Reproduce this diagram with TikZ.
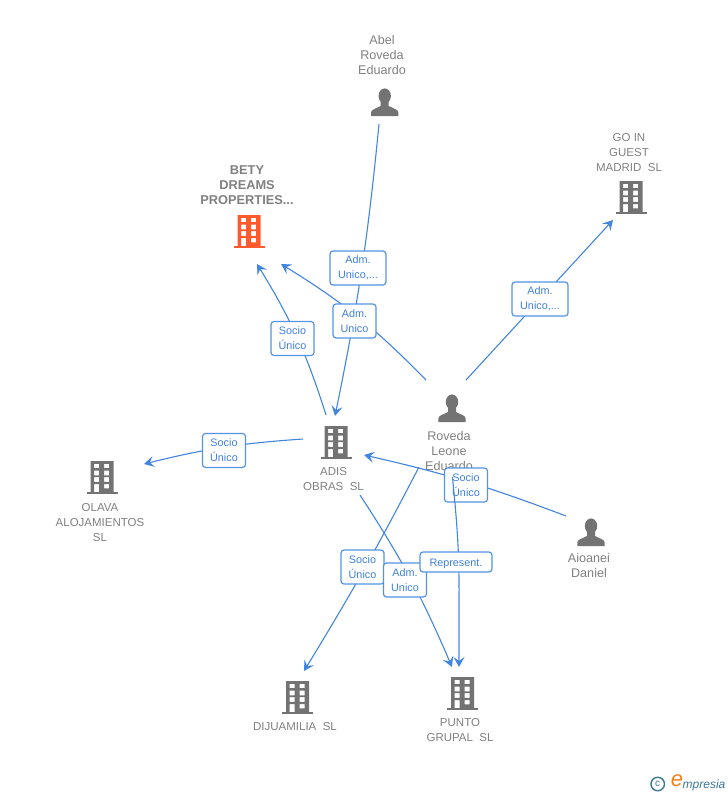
\documentclass[tikz,border=0pt]{standalone}
\usepackage{fontspec}
\setmainfont{Liberation Sans}
\usepackage{xcolor}
\usepackage{tikz}
\usetikzlibrary{arrows.meta,positioning}
\definecolor{linkblue}{RGB}{66,133,224}
\definecolor{boxblue}{RGB}{84,146,228}
\definecolor{textblue}{RGB}{62,128,222}
\definecolor{iconorange}{RGB}{255,90,44}
\definecolor{icongray}{RGB}{115,115,115}
\definecolor{labelgray}{RGB}{128,128,128}
\definecolor{marklogo}{RGB}{58,120,150}
\definecolor{markorange}{RGB}{240,130,30}
\tikzstyle{link} = [line width=1.1pt,color=linkblue]
\tikzstyle{arrow} = [link,-{Stealth[length=10pt,width=11pt,inset=4pt]}]
\tikzstyle{relbox} = [draw=boxblue,line width=1.2pt,fill=white,rounded corners=3pt,inner sep=0pt,minimum height=34pt,minimum width=43pt,align=center,text=textblue,font=\fontsize{10.8}{15}\selectfont,execute at begin node={\rule{0pt}{12pt}}]
\tikzstyle{personlabel} = [align=center,inner sep=0pt,text=labelgray,font=\fontsize{12.6}{15}\selectfont]
\tikzstyle{companylabel} = [align=center,inner sep=0pt,text=labelgray,font=\fontsize{11.5}{15}\selectfont]
\tikzset{
  building/.pic={
    \fill[even odd rule,pic actions]
      (-11.5,-2) rectangle (11.5,-33)
      (-7.8,-30.2) rectangle (-2.8,-25.8) (2.2,-30.2) rectangle (7.2,-25.8)
      (-7.8,-23.4) rectangle (-2.8,-18.6) (2.2,-23.4) rectangle (7.2,-18.6)
      (-7.8,-16.8) rectangle (-2.8,-12.2) (2.2,-16.8) rectangle (7.2,-12.2)
      (-7.8,-10) rectangle (-2.8,-2) (2.2,-10) rectangle (7.2,-5.6);
    \fill[pic actions] (-15.5,-2) rectangle (15.5,0);
  },
  person/.pic={
    \fill[pic actions] (0,-20) ellipse (6.2 and 7.6);
    \fill[pic actions] (-13.7,0) -- (-13.7,-3.5) .. controls (-13.7,-6.5) and (-8.5,-7.5) .. (-4,-10)
      -- (-4,-14) -- (4,-14) -- (4,-10) .. controls (8.5,-7.5) and (13.7,-6.5) .. (13.7,-3.5) -- (13.7,0) -- cycle;
  }
}

\begin{document}
\begin{tikzpicture}[x=1pt,y=-1pt]
    \useasboundingbox (0,0) rectangle (728,795);

    % Icons
    \pic[fill=icongray] (iconAbel) at (384.7,116) {person};
    \pic[fill=icongray] (iconRoveda) at (452,422) {person};
    \pic[fill=icongray] (iconAioanei) at (591,546) {person};
    \pic[fill=iconorange] (iconBety) at (249,248) {building};
    \pic[fill=icongray] (iconGoin) at (631,214) {building};
    \pic[fill=icongray] (iconAdis) at (336,459) {building};
    \pic[fill=icongray] (iconOlava) at (102,494) {building};
    \pic[fill=icongray] (iconDijua) at (297.5,714) {building};
    \pic[fill=icongray] (iconPunto) at (462.5,710) {building};

    % Labels
    \node[personlabel] (nameAbel) at (382,55) {Abel\\Roveda\\Eduardo};
    \node[personlabel] (nameRoveda) at (449,451) {Roveda\\Leone\\Eduardo};
    \node[personlabel] (nameAioanei) at (589,565.5) {Aioanei\\Daniel};
    \node[companylabel,font=\fontsize{12.8}{15}\selectfont\bfseries] (nameBety) at (247,185) {BETY\\DREAMS\\PROPERTIES...};
    \node[companylabel] (nameGoin) at (629,152.5) {GO IN\\GUEST\\MADRID~~SL};
    \node[companylabel] (nameAdis) at (333.5,479.3) {ADIS\\OBRAS~~SL};
    \node[companylabel] (nameOlava) at (100,522.8) {OLAVA\\ALOJAMIENTOS\\SL};
    \node[companylabel] (nameDijua) at (295,726.8) {DIJUAMILIA~~SL};
    \node[companylabel] (namePunto) at (460,730) {PUNTO\\GRUPAL~~SL};

    % Connector ends
    \coordinate (abelOut) at (379,124);
    \coordinate (adisTop) at (335,416);
    \coordinate (adisUp) at (326,415);
    \coordinate (adisLeft) at (303,439);
    \coordinate (adisRight) at (364,455);
    \coordinate (adisDown) at (360,495);
    \coordinate (betyLeft) at (257,264);
    \coordinate (betyRight) at (281,264);
    \coordinate (olavaIn) at (144,464);
    \coordinate (goinIn) at (613,220);
    \coordinate (dijuaIn) at (304,671);
    \coordinate (puntoLeft) at (452,667);
    \coordinate (puntoRight) at (459,667);
    \coordinate (rovedaLeft) at (426,380);
    \coordinate (rovedaRight) at (466,380);
    \coordinate (rovedaLow) at (419,467);
    \coordinate (rovedaDown) at (452.5,477);
    \coordinate (aioaneiOut) at (566,516);

    % Relations
    \draw[arrow] (abelOut) to[bend left=3] (adisTop);
    \draw[arrow] (rovedaLeft) to[bend right=7] (betyRight);
    \draw[arrow] (adisUp) to[bend right=7] (betyLeft);
    \draw[arrow] (adisLeft) to[bend right=5] (olavaIn);
    \draw[arrow] (rovedaRight) -- (goinIn);
    \draw[arrow] (aioaneiOut) to[bend right=4] (adisRight);
    \draw[arrow] (rovedaLow) to[bend left=2] (dijuaIn);
    \draw[arrow] (adisDown) to[bend left=5] (puntoLeft);

    \node[relbox,minimum width=56pt] (relAbel) at (358,268) {Adm.\\Unico,...};
    \node[relbox] (relBetyAdm) at (354.5,321) {Adm.\\Unico};
    \node[relbox] (relBetySocio) at (292.5,338.5) {Socio\\Único};
    \node[relbox] (relOlava) at (224,450.5) {Socio\\Único};
    \node[relbox,minimum width=56pt] (relGoin) at (540,299) {Adm.\\Unico,...};
    \node[relbox] (relAdis) at (466,485) {Socio\\Único};

    % This one runs over the box above
    \draw[arrow] (rovedaDown) .. controls (456,515) and (459.5,545) .. (459,600) -- (puntoRight);

    \node[relbox] (relDijua) at (362.5,567) {Socio\\Único};
    \node[relbox] (relPunto) at (405,580) {Adm.\\Unico};
    \node[relbox,minimum width=72pt,minimum height=20pt] (relRepr) at (456,562) {Represent.};

    % Mark
    \node[circle,draw=marklogo,line width=1.4pt,minimum size=13.5pt,inner sep=0pt,text=marklogo,font=\fontsize{10}{10}\selectfont] (markC) at (657.7,784) {c};
    \node[inner sep=0pt,text=markorange,font=\fontsize{22}{22}\selectfont\itshape] (markE) at (677,780.5) {e};
    \node[inner sep=0pt,text=marklogo,anchor=base west,font=\fontsize{12}{14}\selectfont\itshape] (markName) at (682.5,788) {mpresia};
\end{tikzpicture}
\end{document}
